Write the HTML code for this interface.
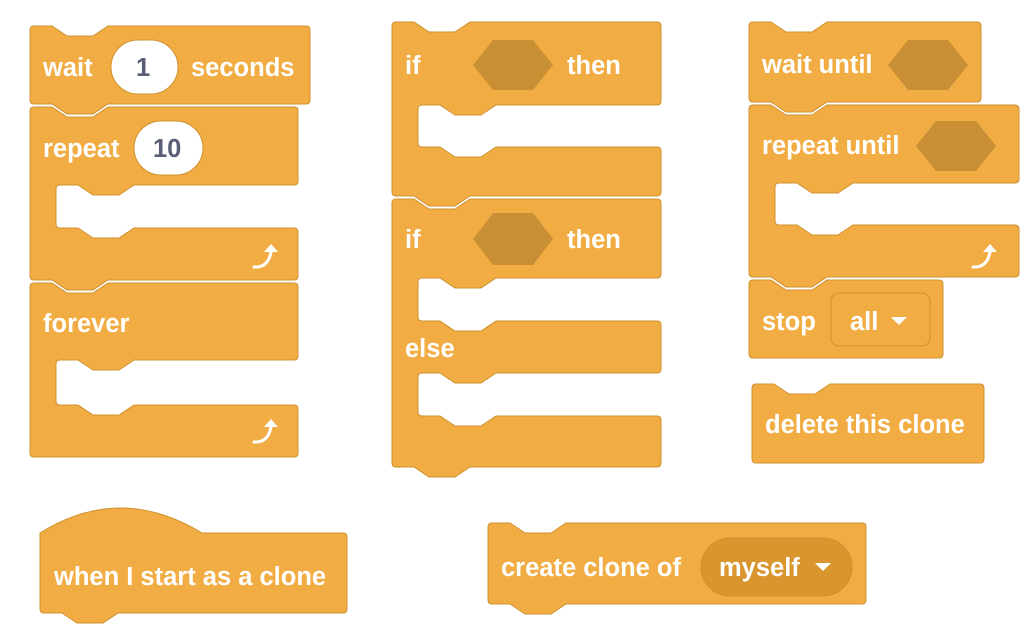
<!DOCTYPE html>
<html><head><meta charset="utf-8"><style>
html,body{margin:0;padding:0;background:#fff;width:1032px;height:642px;overflow:hidden}
svg{display:block}
text{font-family:"Liberation Sans",Arial,sans-serif;font-weight:bold;font-size:25.5px;fill:#fff}
.n{fill:#575E75}
</style></head><body>
<svg id="s" width="1032" height="642" viewBox="0 0 1032 642" xmlns="http://www.w3.org/2000/svg">
<g id="blocks" fill="#F1AD43" stroke="#CF912F" stroke-width="1"></g>
<g id="fg">
<rect x="111" y="40" width="67" height="54" rx="27" fill="#fff" stroke="#CF912F"/>
<text x="43" y="76">wait</text><text x="136" y="76" class="n">1</text><text x="191" y="76">seconds</text>
<rect x="134" y="121" width="69" height="54" rx="27" fill="#fff" stroke="#CF912F"/>
<text x="43" y="157">repeat</text><text x="153" y="157" class="n">10</text>
<text x="43" y="332">forever</text>
<polygon points="473,65 493,40 533,40 553,65 533,90 493,90" fill="#C88F35"/>
<text x="405" y="74">if</text><text x="567" y="74">then</text>
<polygon points="473,239 493,213 533,213 553,239 533,265 493,265" fill="#C88F35"/>
<text x="405" y="248">if</text><text x="567" y="248">then</text>
<text x="405" y="357">else</text>
<polygon points="888,65 908,40 948,40 968,65 948,90 908,90" fill="#C88F35"/>
<text x="762" y="73">wait until</text>
<polygon points="916,146 936,121 976,121 996,146 976,171 936,171" fill="#C88F35"/>
<text x="762" y="154">repeat until</text>
<rect x="831" y="293" width="99" height="53" rx="8" fill="#F1AD43" stroke="#CF912F"/>
<text x="762" y="330">stop</text><text x="850" y="330">all</text>
<polygon points="891,317 907,317 899,325" fill="#fff"/>
<text x="765" y="433">delete this clone</text>
<text x="54" y="585">when I start as a clone</text>
<rect x="701" y="538" width="151" height="58" rx="29" fill="#D9962F" stroke="#CF912F"/>
<text x="501" y="576">create clone of</text><text x="719" y="576">myself</text>
<polygon points="815,563 831,563 823,571" fill="#fff"/>
<g fill="none" stroke="#fff" stroke-width="3" stroke-linecap="round">
<path d="M254 267 Q268 268 271 252"/><path d="M254 442 Q268 443 271 427"/><path d="M973 267 Q987 268 990 252"/>
</g>
<g fill="#fff"><polygon points="264,252 278,252 271,244"/><polygon points="264,427 278,427 271,419"/><polygon points="983,252 997,252 990,244"/></g>
</g>
</svg>
<script>
(function(){
var g=document.getElementById('blocks');
var cy;
function notchR(x){return ' L'+(x+22)+','+cy+' L'+(x+37)+','+(cy+10)+' L'+(x+63)+','+(cy+10)+' L'+(x+78)+','+cy;}
function topEdge(L,T,W,notch){cy=T;var d='M'+L+','+(T+4)+' Q'+L+','+T+' '+(L+4)+','+T;if(notch)d+=notchR(L);d+=' L'+(L+W-4)+','+T+' Q'+(L+W)+','+T+' '+(L+W)+','+(T+4);return d;}
function botEdge(L,W,B,tab){var d=' L'+(L+W)+','+(B-4)+' Q'+(L+W)+','+B+' '+(L+W-4)+','+B;if(tab)d+=' L'+(L+78)+','+B+' L'+(L+63)+','+(B+10)+' L'+(L+37)+','+(B+10)+' L'+(L+22)+','+B;d+=' L'+(L+4)+','+B+' Q'+L+','+B+' '+L+','+(B-4)+' Z';return d;}
function block(L,T,W,B,opt){opt=opt||{};var d;
 if(opt.hat){d='M'+L+','+(T+28)+' Q'+(L+80)+','+(T-22)+' '+(L+162)+','+(T+28)+' L'+(L+W-4)+','+(T+28)+' Q'+(L+W)+','+(T+28)+' '+(L+W)+','+(T+32);}
 else d=topEdge(L,T,W,opt.notch!==false);
 var I=L+26;(opt.arms||[]).forEach(function(a){var y=a[0],m=a[1],R=L+W;
  d+=' L'+R+','+(y-4)+' Q'+R+','+y+' '+(R-4)+','+y+' L'+(I+78)+','+y+' L'+(I+63)+','+(y+10)+' L'+(I+37)+','+(y+10)+' L'+(I+22)+','+y+' L'+(I+4)+','+y+' Q'+I+','+y+' '+I+','+(y+4)+' L'+I+','+(m-4)+' Q'+I+','+m+' '+(I+4)+','+m;
  cy=m;d+=notchR(I)+' L'+(R-4)+','+m+' Q'+R+','+m+' '+R+','+(m+4);});
 d+=botEdge(L,W,B,opt.tab!==false);
 var p=document.createElementNS('http://www.w3.org/2000/svg','path');p.setAttribute('d',d);g.appendChild(p);}
block(30,26,280,104);
block(30,107,268,280,{arms:[[185,228]]});
block(30,283,268,457,{arms:[[360,405]],tab:false});
block(392,22,269,196,{arms:[[105,147]]});
block(392,199,269,467,{arms:[[278,321],[373,416]]});
block(749,22,232,102);
block(749,105,270,277,{arms:[[183,225]]});
block(749,280,194,358,{tab:false});
block(752,384,232,463,{tab:false});
block(40,505,307,613,{hat:true});
block(488,523,378,604);
})();
</script>
</body></html>
